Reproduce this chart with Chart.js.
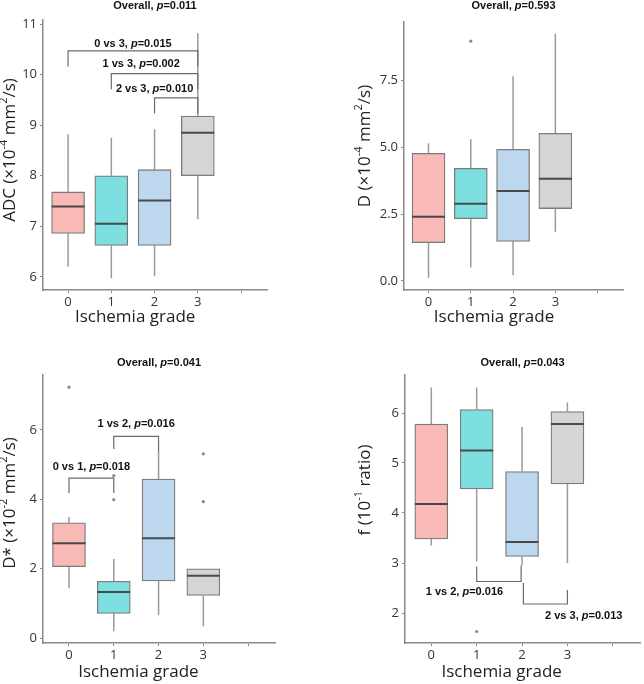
<!DOCTYPE html>
<html>
<head>
<meta charset="utf-8">
<script src="https://cdn.jsdelivr.net/npm/chart.js@4.4.1/dist/chart.umd.min.js"></script>
<style>
    html, body { margin: 0; padding: 0; background: #fff; }
    #wrap { position: relative; width: 644px; height: 684px; }
    #wrap canvas { position: absolute; }
</style>
</head>
<body>
<div id="wrap">
    <canvas id="adcChart" width="322" height="342" style="left:0;top:0"></canvas>
    <canvas id="dChart" width="322" height="342" style="left:322px;top:0"></canvas>
    <canvas id="dstarChart" width="322" height="342" style="left:0;top:342px"></canvas>
    <canvas id="fChart" width="322" height="342" style="left:322px;top:342px"></canvas>
</div>
<script>
// ==================== DATOS ====================
const grades = [0, 1, 2, 3];
const boxColors = ['#f9b9b6', '#7edfe0', '#bdd7ef', '#d5d5d5'];

// ADC (x10^-4 mm2/s)
const adcMin = [6.20, 5.97, 6.01, 7.14];
const adcQ1 = [6.86, 6.62, 6.62, 8.00];
const adcMed = [7.39, 7.05, 7.51, 8.85];
const adcQ3 = [7.68, 8.00, 8.12, 9.18];
const adcMax = [8.82, 8.75, 8.92, 10.82];
const adcOutliers = [];
const adcTicks = [6, 7, 8, 9, 10, 11];
const adcOverallP = '0.011';
const adcPairs = [[0, 3], [1, 3], [2, 3]];
const adcPairP = ['0.015', '0.002', '0.010'];

// D (x10^-4 mm2/s)
const dMin = [0.12, 0.50, 0.21, 1.84];
const dQ1 = [1.43, 2.33, 1.48, 2.71];
const dMed = [2.40, 2.89, 3.37, 3.83];
const dQ3 = [4.78, 4.22, 4.93, 5.53];
const dMax = [5.16, 5.31, 7.67, 9.27];
const dOutliers = [[1, 8.98]];
const dTicks = [0, 2.5, 5, 7.5];
const dOverallP = '0.593';

// D* (x10^-2 mm2/s)
const dsMin = [1.44, 0.20, 0.66, 0.34];
const dsQ1 = [2.06, 0.71, 1.65, 1.23];
const dsMed = [2.73, 1.33, 2.88, 1.80];
const dsQ3 = [3.32, 1.64, 4.58, 2.00];
const dsMax = [3.49, 2.28, 5.40, 2.00];
const dsOutliers = [[0, 7.23], [1, 4.68], [1, 3.99], [3, 5.31], [3, 3.93]];
const dsTicks = [0, 2, 4, 6];
const dsOverallP = '0.041';
const dsPairs = [[0, 1], [1, 2]];
const dsPairP = ['0.018', '0.016'];

// f (10^-1 ratio)
const fMin = [3.35, 3.03, 2.95, 3.00];
const fQ1 = [3.48, 4.48, 3.13, 4.58];
const fMed = [4.18, 5.25, 3.42, 5.78];
const fQ3 = [5.78, 6.07, 4.83, 6.03];
const fMax = [6.51, 6.51, 5.72, 6.21];
const fOutliers = [[1, 1.63]];
const fTicks = [2, 3, 4, 5, 6];
const fOverallP = '0.043';
const fPairs = [[1, 2], [2, 3]];
const fPairP = ['0.016', '0.013'];

// ==================== ESTILOS ====================
const TICK_FONT = { family: "'Open Sans', sans-serif", size: 13 };
const AXIS_COLOR = '#8a8a8a';
const BOLD = "bold 11px 'Liberation Sans', Arial, sans-serif";
const BOLD_IT = "italic bold 11px 'Liberation Sans', Arial, sans-serif";
const TITLE_FONT = "17px 'Open Sans', sans-serif";
const SUP_FONT = "11px 'Open Sans', sans-serif";

// ==================== PANELES ====================
const panels = [
    {
        id: 'adcChart',
        area: { left: 43, right: 267, top: 20, bottom: 290 },
        yRange: [5.74, 11.08],
        min: adcMin, q1: adcQ1, med: adcMed, q3: adcQ3, max: adcMax,
        outliers: adcOutliers, ticks: adcTicks, fmt: v => String(v),
        overall: adcOverallP, titleY: 6,
        yTitle: [['ADC (×10'], ['-4', 1], [' mm'], ['2', 1], ['/s)']],
        yTitleAt: [10, 150], xTitleY: 317,
        // [nivel, fin pata izq, fin pata der, x etiqueta, y etiqueta, x izq, x der]
        brackets: [
            [10.47, 10.16, 10.16, 1.5, 10.61],
            [10.02, 9.71, 9.71, 1.69, 10.21],
            [9.54, 9.23, 9.23, 2.0, 9.72]
        ],
        pairs: adcPairs, pairP: adcPairP
    },
    {
        id: 'dChart',
        area: { left: 82, right: 301, top: 22, bottom: 290 },
        yRange: [-0.34, 9.7],
        min: dMin, q1: dQ1, med: dMed, q3: dQ3, max: dMax,
        outliers: dOutliers, ticks: dTicks, fmt: v => v.toFixed(1),
        overall: dOverallP, titleY: 6,
        yTitle: [['D (×10'], ['-4', 1], [' mm'], ['2', 1], ['/s)']],
        yTitleAt: [43, 146], xTitleY: 317,
        brackets: [], pairs: [], pairP: []
    },
    {
        id: 'dstarChart',
        area: { left: 43, right: 275, top: 33, bottom: 301 },
        yRange: [-0.14, 7.58],
        min: dsMin, q1: dsQ1, med: dsMed, q3: dsQ3, max: dsMax,
        outliers: dsOutliers, ticks: dsTicks, fmt: v => String(v),
        overall: dsOverallP, titleY: 21,
        yTitle: [['D* (×10'], ['-2', 1], [' mm'], ['2', 1], ['/s)']],
        yTitleAt: [10, 161], xTitleY: 330,
        brackets: [
            [4.61, 4.18, 4.18, 0.5, 4.94],
            [5.81, 5.45, 5.38, 1.5, 6.17]
        ],
        pairs: dsPairs, pairP: dsPairP
    },
    {
        id: 'fChart',
        area: { left: 83, right: 318, top: 33, bottom: 301 },
        yRange: [1.4, 6.76],
        min: fMin, q1: fQ1, med: fMed, q3: fQ3, max: fMax,
        outliers: fOutliers, ticks: fTicks, fmt: v => String(v),
        overall: fOverallP, titleY: 21,
        yTitle: [['f (10'], ['-1', 1], [' ratio)']],
        yTitleAt: [43, 148], xTitleY: 330,
        brackets: [
            [2.63, 2.93, 2.95, 0.73, 2.43, 1, 1.98],
            [2.18, 2.60, 2.46, 3.36, 1.95, 2.03, 3]
        ],
        pairs: fPairs, pairP: fPairP
    }
];

// ==================== UTILIDADES ====================
// partes: [texto, -, fuente, subida]
function drawRich(ctx, parts, x, y) {
    let total = 0;
    parts.forEach(p => { ctx.font = p[2]; total += ctx.measureText(p[0]).width; });
    let cx = x - total / 2;
    ctx.textAlign = 'left';
    ctx.textBaseline = 'middle';
    parts.forEach(p => {
        ctx.font = p[2];
        ctx.fillText(p[0], cx, y - (p[3] || 0));
        cx += ctx.measureText(p[0]).width;
    });
}

function pText(prefix, p) {
    return [[prefix + ', ', 0, BOLD], ['p', 0, BOLD_IT], ['=' + p, 0, BOLD]];
}

function makeExtras(p) {
    return {
        id: 'boxExtras',
        beforeDatasetsDraw(chart) {
            const { ctx, scales: { x, y } } = chart;
            ctx.save();
            ctx.strokeStyle = '#9a9a9a';
            ctx.lineWidth = 1.5;
            grades.forEach((g, i) => {
                const px = x.getPixelForValue(g);
                ctx.beginPath();
                ctx.moveTo(px, y.getPixelForValue(p.max[i]));
                ctx.lineTo(px, y.getPixelForValue(p.q3[i]));
                ctx.moveTo(px, y.getPixelForValue(p.q1[i]));
                ctx.lineTo(px, y.getPixelForValue(p.min[i]));
                ctx.stroke();
            });
            ctx.restore();
        },
        afterDatasetsDraw(chart) {
            const { ctx, scales: { x, y }, chartArea } = chart;
            ctx.save();

            // medianas
            ctx.strokeStyle = '#4a4a4a';
            ctx.lineWidth = 2;
            chart.getDatasetMeta(0).data.forEach((bar, i) => {
                const { x: bx, width } = bar.getProps(['x', 'width'], true);
                const py = y.getPixelForValue(p.med[i]);
                ctx.beginPath();
                ctx.moveTo(bx - width / 2, py);
                ctx.lineTo(bx + width / 2, py);
                ctx.stroke();
            });

            // comparaciones
            ctx.strokeStyle = '#6a6a6a';
            ctx.lineWidth = 1.2;
            ctx.fillStyle = '#111';
            p.brackets.forEach((b, k) => {
                const a = b[5] !== undefined ? b[5] : p.pairs[k][0];
                const c = b[6] !== undefined ? b[6] : p.pairs[k][1];
                const xa = x.getPixelForValue(a), xc = x.getPixelForValue(c);
                const yb = y.getPixelForValue(b[0]);
                ctx.beginPath();
                ctx.moveTo(xa, y.getPixelForValue(b[1]));
                ctx.lineTo(xa, yb);
                ctx.lineTo(xc, yb);
                ctx.lineTo(xc, y.getPixelForValue(b[2]));
                ctx.stroke();
                drawRich(ctx, pText(p.pairs[k][0] + ' vs ' + p.pairs[k][1], p.pairP[k]),
                    x.getPixelForValue(b[3]), y.getPixelForValue(b[4]));
            });

            // titulo
            ctx.fillStyle = '#111';
            drawRich(ctx, pText('Overall', p.overall), (chartArea.left + chartArea.right) / 2, p.titleY);

            // titulos de ejes
            ctx.fillStyle = '#222';
            const parts = p.yTitle.map(t => t[1] ? [t[0], 0, SUP_FONT, 6] : [t[0], 0, TITLE_FONT]);
            ctx.save();
            ctx.translate(p.yTitleAt[0], p.yTitleAt[1]);
            ctx.rotate(-Math.PI / 2);
            drawRich(ctx, parts, 0, 0);
            ctx.restore();
            drawRich(ctx, [['Ischemia grade', 0, TITLE_FONT]], x.getPixelForValue(1.55), p.xTitleY);

            ctx.restore();
        }
    };
}

// ==================== GRAFICOS ====================
function buildPanel(p) {
    const ctx = document.getElementById(p.id).getContext('2d');
    return new Chart(ctx, {
        type: 'bar',
        data: {
            datasets: [
                {
                    data: grades.map((g, i) => ({ x: g, y: [p.q1[i], p.q3[i]] })),
                    backgroundColor: boxColors,
                    borderColor: '#7c7c7c',
                    borderWidth: 1.3,
                    borderSkipped: false,
                    barThickness: 33
                },
                {
                    type: 'scatter',
                    data: p.outliers.map(o => ({ x: o[0], y: o[1] })),
                    pointRadius: 1.6,
                    backgroundColor: '#8a8a8a',
                    borderWidth: 0
                }
            ]
        },
        options: {
            responsive: false,
            animation: false,
            devicePixelRatio: 1,
            events: [],
            layout: {
                padding: { left: 0, top: p.area.top, right: 322 - p.area.right, bottom: 0 }
            },
            plugins: {
                legend: { display: false },
                tooltip: { enabled: false }
            },
            scales: {
                x: {
                    type: 'linear',
                    offset: false,
                    min: -0.58,
                    max: 4.6,
                    afterFit: s => { s.height = 342 - p.area.bottom; },
                    afterBuildTicks: s => { s.ticks = [0, 1, 2, 3, 4].map(v => ({ value: v })); },
                    ticks: {
                        callback: v => (v < 4 ? String(v) : ''),
                        color: '#333',
                        font: TICK_FONT,
                        padding: 1,
                        maxRotation: 0,
                        autoSkip: false
                    },
                    grid: { offset: false, drawOnChartArea: false, tickLength: 3, color: AXIS_COLOR },
                    border: { color: AXIS_COLOR, width: 1.5 }
                },
                y: {
                    min: p.yRange[0],
                    max: p.yRange[1],
                    afterFit: s => { s.width = p.area.left; },
                    afterBuildTicks: s => { s.ticks = p.ticks.map(v => ({ value: v })); },
                    ticks: {
                        callback: v => p.fmt(v),
                        color: '#333',
                        font: TICK_FONT,
                        padding: 3
                    },
                    grid: { drawOnChartArea: false, tickLength: 3, color: AXIS_COLOR },
                    border: { color: AXIS_COLOR, width: 1.5 }
                }
            }
        },
        plugins: [makeExtras(p)]
    });
}

panels.forEach(buildPanel);
</script>
</body>
</html>
